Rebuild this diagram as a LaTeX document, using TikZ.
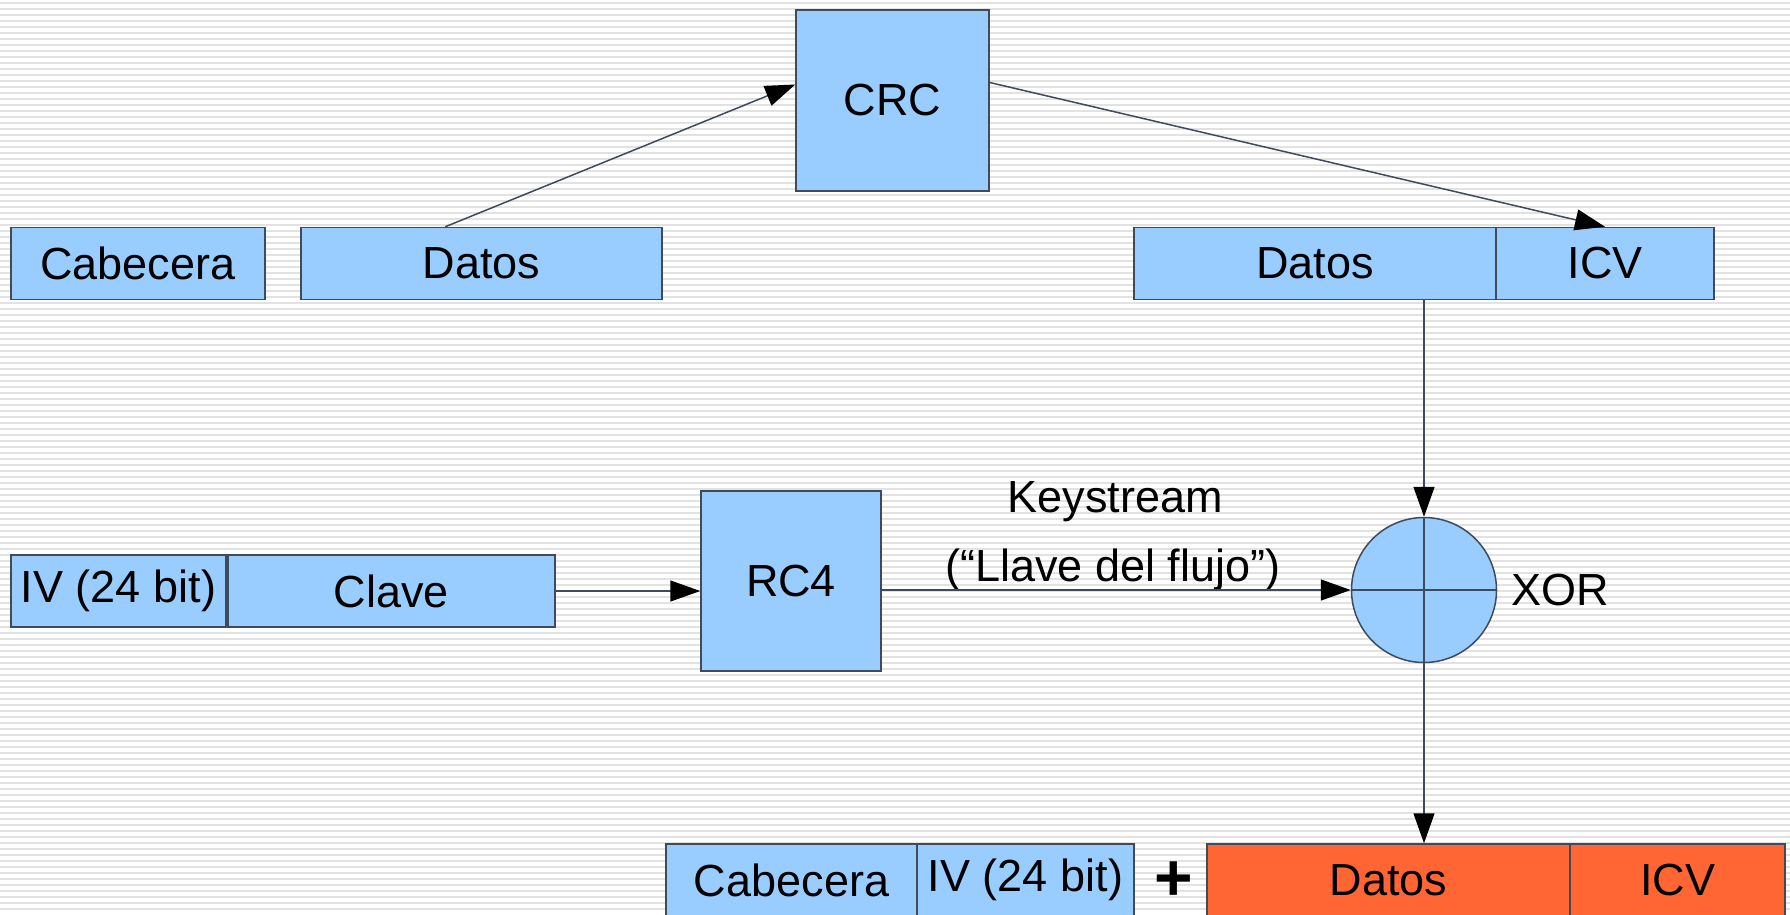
\documentclass[tikz,border=0pt]{standalone}
\usepackage{fontspec}
\setmainfont{Liberation Sans}
\usetikzlibrary{arrows.meta, calc, positioning}
\definecolor{fieldBlue}{HTML}{99CCFF}
\definecolor{fieldRed}{HTML}{FF6633}
\definecolor{edgeColor}{HTML}{3F4B5B}
\definecolor{stripeColor}{HTML}{E2E2E2}

\tikzset{
  field/.style={draw=edgeColor, fill=fieldBlue, line width=1.5pt, minimum height=72pt,
    inner sep=0pt, font=\fontsize{45}{54}\selectfont},
  cipherfield/.style={field, fill=fieldRed},
  flow/.style={-{Triangle[length=30pt, width=21pt, color=black]}, line width=1.5pt, draw=edgeColor},
  plain/.style={font=\fontsize{45}{54}\selectfont, inner sep=0pt}
}

\begin{document}
\begin{tikzpicture}[x=1pt, y=-1pt]
    \clip (0,0) rectangle (1790,914);
    \fill[white] (0,0) rectangle (1790,914);
    \foreach \y in {3,9,...,914}
        \draw[stripeColor, line width=2pt] (0,\y) -- (1790,\y);

    % top row: plain frame and CRC
    \node[field, minimum width=193pt, minimum height=181pt] (crc) at (892.5,100.5) {CRC};
    \node[field, minimum width=254pt] (cab1) at (138,263.5) {Cabecera};
    \node[field, minimum width=361pt] (datos1) at (481.5,263.5) {Datos};
    \node[field, minimum width=362pt] (datos2) at (1315,263.5) {Datos};
    \node[field, minimum width=218pt] (icv2) at (1605,263.5) {ICV};

    % key and keystream
    \node[field, minimum width=215pt] (iv1) at (118.5,591) {IV (24 bit)};
    \node[field, minimum width=327pt] (clave) at (391.5,591) {Clave};
    \node[field, minimum width=180pt, minimum height=180pt] (rc4) at (791,581) {RC4};
    \node[field, circle, minimum size=145pt] (xor) at (1424,590) {};
    \draw[edgeColor, line width=1.5pt] (xor.north) -- (xor.south) (xor.west) -- (xor.east);
    \node[plain, right=14pt of xor.east] (xorlabel) {XOR};
    \node[plain] (keylabel) at (1115,502) {Keystream};
    \node[plain] (keysub) at (1113,570) {(“Llave del flujo”)};

    % encrypted frame
    \node[field, minimum width=251pt] (cab3) at (791.5,880) {Cabecera};
    \node[field, minimum width=217pt] (iv3) at (1025.5,880) {IV (24 bit)};
    \node[plain, font=\bfseries\fontsize{66}{70}\selectfont] (plus) at (1174,881) {+};
    \node[cipherfield, minimum width=363pt] (datos3) at (1388.5,880) {Datos};
    \node[cipherfield, minimum width=215pt] (icv3) at (1677.5,880) {ICV};

    \draw[flow] ($(datos1.north west)!0.4!(datos1.north east)$) -- ([yshift=16pt]crc.west);
    \draw[flow] ([yshift=18pt]crc.east) -- (icv2.north);
    \draw[flow] (xor.north |- datos2.south) -- (xor.north);
    \draw[flow] (clave.east) -- (clave.east -| rc4.west);
    \draw[flow] (rc4.east |- xor.west) -- (xor.west);
    \draw[flow] (xor.south) -- (xor.south |- datos3.north);
\end{tikzpicture}
\end{document}
